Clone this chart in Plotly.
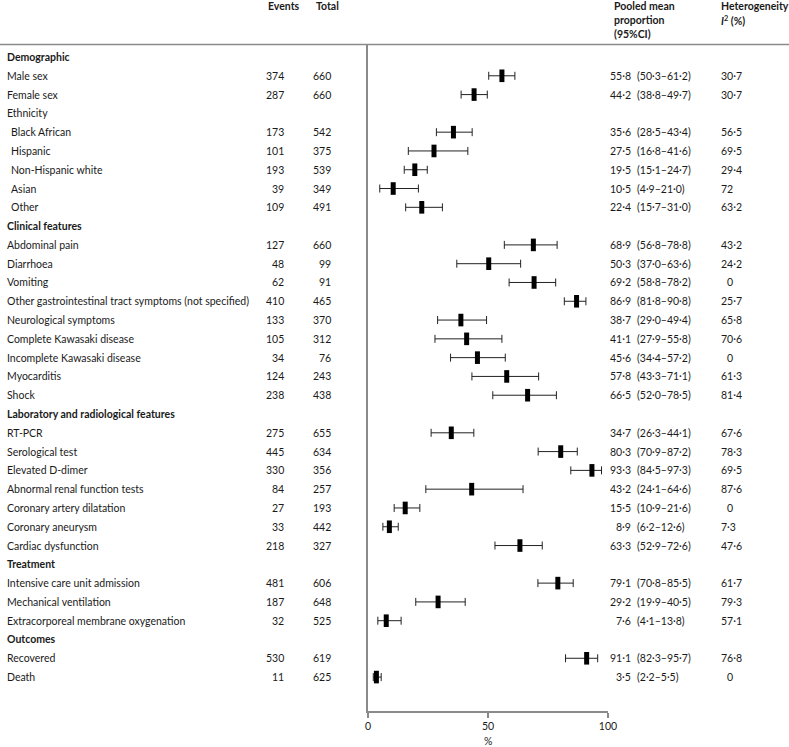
import plotly.graph_objects as go

W, H = 789, 747

labels = [
    "Demographic", "Male sex", "Female sex", "Ethnicity", "Black African", "Hispanic",
    "Non-Hispanic white", "Asian", "Other",
    "Clinical features", "Abdominal pain", "Diarrhoea", "Vomiting",
    "Other gastrointestinal tract symptoms (not specified)", "Neurological symptoms",
    "Complete Kawasaki disease", "Incomplete Kawasaki disease", "Myocarditis", "Shock",
    "Laboratory and radiological features", "RT-PCR", "Serological test", "Elevated D-dimer",
    "Abnormal renal function tests", "Coronary artery dilatation", "Coronary aneurysm",
    "Cardiac dysfunction",
    "Treatment", "Intensive care unit admission", "Mechanical ventilation",
    "Extracorporeal membrane oxygenation",
    "Outcomes", "Recovered", "Death",
]
section_headers = ["Demographic", "Clinical features", "Laboratory and radiological features",
                   "Treatment", "Outcomes"]
indented = ["Black African", "Hispanic", "Non-Hispanic white", "Asian", "Other"]

events = [None, 374, 287, None, 173, 101, 193, 39, 109,
          None, 127, 48, 62, 410, 133, 105, 34, 124, 238,
          None, 275, 445, 330, 84, 27, 33, 218,
          None, 481, 187, 32,
          None, 530, 11]
totals = [None, 660, 660, None, 542, 375, 539, 349, 491,
          None, 660, 99, 91, 465, 370, 312, 76, 243, 438,
          None, 655, 634, 356, 257, 193, 442, 327,
          None, 606, 648, 525,
          None, 619, 625]
est = [None, 55.8, 44.2, None, 35.6, 27.5, 19.5, 10.5, 22.4,
       None, 68.9, 50.3, 69.2, 86.9, 38.7, 41.1, 45.6, 57.8, 66.5,
       None, 34.7, 80.3, 93.3, 43.2, 15.5, 8.9, 63.3,
       None, 79.1, 29.2, 7.6,
       None, 91.1, 3.5]
lo = [None, 50.3, 38.8, None, 28.5, 16.8, 15.1, 4.9, 15.7,
      None, 56.8, 37.0, 58.8, 81.8, 29.0, 27.9, 34.4, 43.3, 52.0,
      None, 26.3, 70.9, 84.5, 24.1, 10.9, 6.2, 52.9,
      None, 70.8, 19.9, 4.1,
      None, 82.3, 2.2]
hi = [None, 61.2, 49.7, None, 43.4, 41.6, 24.7, 21.0, 31.0,
      None, 78.8, 63.6, 78.2, 90.8, 49.4, 55.8, 57.2, 71.1, 78.5,
      None, 44.1, 87.2, 97.3, 64.6, 21.6, 12.6, 72.6,
      None, 85.5, 40.5, 13.8,
      None, 95.7, 5.5]
i2 = [None, "30·7", "30·7", None, "56·5", "69·5", "29·4", "72", "63·2",
      None, "43·2", "24·2", "0", "25·7", "65·8", "70·6", "0", "61·3", "81·4",
      None, "67·6", "78·3", "69·5", "87·6", "0", "7·3", "47·6",
      None, "61·7", "79·3", "57·1",
      None, "76·8", "0"]
xticks = [0, 50, 100]


def fmt(v):
    return f"{v:.1f}".replace(".", "·")


def px(x):
    return x / W


def py(y):
    return 1 - y / H


FONT = "Lato"
FS = 10.5
TXT = "#1a1a1a"

rows = list(range(len(labels)))
pr = [i for i in rows if est[i] is not None]

fig = go.Figure()
fig.add_trace(go.Scatter(
    x=[est[i] for i in pr],
    y=[i for i in pr],
    mode="markers",
    marker=dict(symbol="line-ns", size=9, line=dict(width=5, color="black"), color="black"),
    error_x=dict(type="data", symmetric=False,
                 array=[hi[i] - est[i] for i in pr],
                 arrayminus=[est[i] - lo[i] for i in pr],
                 thickness=1, width=4, color="#222"),
    showlegend=False, hoverinfo="skip", cliponaxis=False,
))

ann = []
for i in rows:
    lab = labels[i]
    if lab in section_headers:
        ann.append(dict(x=px(5), y=i, text=f"<b>{lab}</b>", xanchor="left"))
    else:
        xl = 9 if lab in indented else 5
        ann.append(dict(x=px(xl), y=i, text=lab, xanchor="left"))
    if events[i] is not None:
        ann.append(dict(x=px(286), y=i, text=str(events[i]), xanchor="right"))
        ann.append(dict(x=px(333), y=i, text=str(totals[i]), xanchor="right"))
        ann.append(dict(x=px(633), y=i, text=fmt(est[i]), xanchor="right"))
        ann.append(dict(x=px(635), y=i, text=f"({fmt(lo[i])}–{fmt(hi[i])})", xanchor="left"))
        xh = 725 if i2[i] == "0" else 719
        ann.append(dict(x=px(xh), y=i, text=i2[i], xanchor="left"))

for a in ann:
    a.update(xref="paper", yref="y", showarrow=False, yanchor="middle",
             font=dict(family=FONT, size=FS, color=TXT))

hdr = [
    (266, 6, "<b>Events</b>"),
    (314, 6, "<b>Total</b>"),
    (612, 6, "<b>Pooled mean</b>"),
    (612, 20, "<b>proportion</b>"),
    (612, 34, "<b>(95%CI)</b>"),
    (719, 6, "<b>Heterogeneity</b>"),
    (719, 20, "<b><i>I</i><sup>2</sup> (%)</b>"),
]
for x, y, t in hdr:
    ann.append(dict(x=px(x), y=py(y), xref="paper", yref="paper", text=t, showarrow=False,
                    xanchor="left", yanchor="middle",
                    font=dict(family=FONT, size=FS, color=TXT)))

ann.append(dict(x=px(488), y=py(741), xref="paper", yref="paper", text="%", showarrow=False,
                xanchor="center", yanchor="middle", font=dict(family=FONT, size=FS, color=TXT)))

fig.update_layout(
    width=W, height=H,
    margin=dict(l=0, r=0, t=0, b=0, pad=0, autoexpand=False),
    paper_bgcolor="white", plot_bgcolor="white",
    annotations=ann,
    shapes=[dict(type="line", xref="paper", yref="paper", x0=0, x1=1,
                 y0=py(44.5), y1=py(44.5), line=dict(color="#8a8a8a", width=1.5))],
    xaxis=dict(domain=[px(368), px(608)], range=[0, 100], tickvals=xticks,
               ticktext=[str(t) for t in xticks], showgrid=False, zeroline=False,
               showline=True, linecolor="#8a8a8a", linewidth=1.5, ticks="outside",
               ticklen=5, tickcolor="#8a8a8a", tickwidth=1.5,
               tickfont=dict(family=FONT, size=FS, color=TXT), anchor="y"),
    yaxis=dict(domain=[py(711), py(44.5)], range=[(711 - 57) / 18.79, (44.5 - 57) / 18.79],
               showgrid=False, zeroline=False, showticklabels=False, ticks="",
               showline=True, linecolor="#8a8a8a", linewidth=1.5),
)

fig.write_html("out.html", config={"displayModeBar": False},
               post_script="document.body.style.margin='0px';document.body.style.overflow='hidden';")
